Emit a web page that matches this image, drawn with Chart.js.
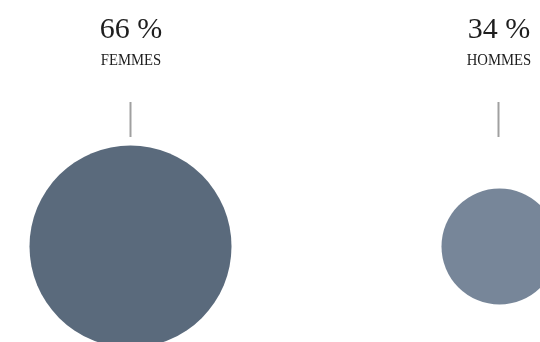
<!DOCTYPE html>
<html>
<head>
<meta charset="utf-8">
<script src="https://cdn.jsdelivr.net/npm/chart.js@4/dist/chart.umd.min.js"></script>
<style>
  html, body { margin: 0; padding: 0; background: #fff; }
  #wrap { width: 540px; height: 342px; position: relative; }
</style>
</head>
<body>
<div id="wrap"><canvas id="c" width="540" height="342"></canvas></div>
<script>
// Share of women and men
const categories = ['FEMMES', 'HOMMES'];
const shares = [66, 34];
const valueLabels = ['66 %', '34 %'];
const colors = ['#5a6a7c', '#778699'];

// Bubble radius grows linearly with the share
function radiusFor(v) { return 12.3 + 1.344 * v; }

const points = shares.map((v, i) => ({ x: i, y: 0, r: radiusFor(v), v }));

// Header above each bubble: value, category name and a short tick
const headerPlugin = {
  id: 'headers',
  afterDatasetsDraw(chart) {
    const ctx = chart.ctx;
    const xs = chart.scales.x;
    ctx.save();
    categories.forEach((name, i) => {
      const cx = Math.round(xs.getPixelForValue(i));
      ctx.fillStyle = '#1e1e1e';
      ctx.textAlign = 'center';
      ctx.textBaseline = 'alphabetic';
      ctx.font = '30px "Liberation Serif", serif';
      ctx.fillText(valueLabels[i], cx, 38);

      ctx.save();
      ctx.translate(cx, 65);
      ctx.scale(0.84, 1);
      ctx.font = '17.5px "Liberation Serif", serif';
      ctx.fillText(name, 0, 0);
      ctx.restore();

      ctx.strokeStyle = '#a0a0a0';
      ctx.lineWidth = 2;
      ctx.beginPath();
      ctx.moveTo(cx - 0.5, 102);
      ctx.lineTo(cx - 0.5, 137);
      ctx.stroke();
    });
    ctx.restore();
  }
};

new Chart(document.getElementById('c'), {
  type: 'bubble',
  data: {
    datasets: [{
      data: points,
      backgroundColor: colors,
      borderWidth: 0,
      hoverBorderWidth: 0,
      clip: false
    }]
  },
  options: {
    responsive: false,
    animation: false,
    events: [],
    layout: { padding: 0, autoPadding: false },
    plugins: { legend: { display: false }, tooltip: { enabled: false } },
    scales: {
      x: { type: 'linear', display: false, min: -130.5 / 369, max: (540 - 130.5) / 369 },
      y: { type: 'linear', display: false, min: -(342 - 246.5) / 342, max: 246.5 / 342 }
    }
  },
  plugins: [headerPlugin]
});
</script>
</body>
</html>
